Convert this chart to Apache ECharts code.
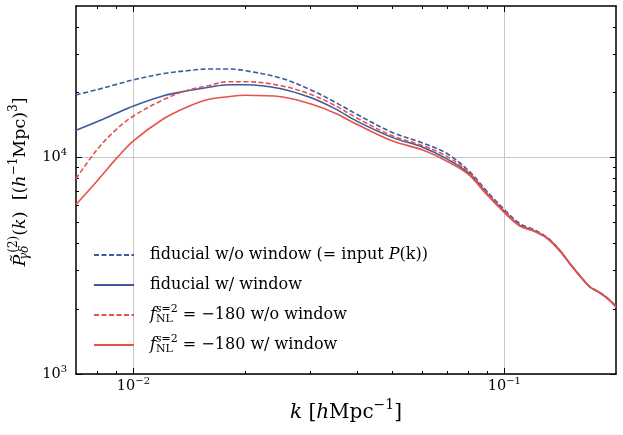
<!DOCTYPE html>
<html><head><meta charset="utf-8">
<script src="https://cdn.jsdelivr.net/npm/echarts@6/dist/echarts.min.js"></script>
<style>html,body{margin:0;padding:0;background:#fff}#c{width:623px;height:435px}</style>
</head><body><div id="c"></div>
<script>
// ---- data ----
const k = [0.007, 0.008, 0.009, 0.01, 0.012, 0.014, 0.016, 0.018, 0.02, 0.025, 0.03, 0.035, 0.04, 0.05, 0.06, 0.07, 0.08, 0.09, 0.1, 0.11, 0.12, 0.13, 0.14, 0.15, 0.16, 0.17, 0.18, 0.19, 0.2];
const fiducialNoWindow = [19430, 20580, 21730, 22800, 24350, 25150, 25600, 25600, 25150, 23220, 20540, 17970, 15820, 13010, 11670, 10430, 8706, 6937, 5743, 4950, 4642, 4285, 3791, 3248, 2837, 2533, 2391, 2236, 2053];
const fiducialWindow = [13340, 14650, 15990, 17280, 19220, 20320, 21090, 21660, 21660, 20760, 18880, 16750, 14710, 12340, 11170, 9840, 8477, 6755, 5610, 4854, 4592, 4261, 3773, 3248, 2837, 2528, 2388, 2232, 2047];
const fnlNoWindow = [7970, 10930, 13480, 15530, 18420, 20430, 21480, 22360, 22360, 21430, 19570, 17350, 15200, 12550, 11360, 10110, 8566, 6828, 5652, 4870, 4603, 4269, 3781, 3244, 2833, 2528, 2388, 2230, 2045];
const fnlWindow = [6058, 7826, 9894, 11924, 14996, 17130, 18560, 19060, 19370, 19060, 17670, 15990, 14220, 11900, 10840, 9603, 8344, 6683, 5563, 4818, 4567, 4239, 3751, 3231, 2822, 2520, 2378, 2225, 2042];

const xMajorTicks = [0.01, 0.1];
const xTickExps = ['−2', '−1'];
const xMinorTicks = [0.008, 0.009, 0.02, 0.03, 0.04, 0.05, 0.06, 0.07, 0.08, 0.09];
const yMajorTicks = [1000, 10000];
const yTickExps = ['3', '4'];
const yMinorTicks = [2000, 3000, 4000, 5000, 6000, 7000, 8000, 9000, 20000, 30000, 40000];

const seriesNames = ['fidNoWin', 'fidWin', 'fnlNoWin', 'fnlWin'];
const legendTexts = [
  'fiducial w/o window (= input {i|P}(k))',
  'fiducial w/ window',
  '{i|f}{subz|NL}{supi|s}{sup|=2} = −180 w/o window',
  '{i|f}{subz|NL}{supi|s}{sup|=2} = −180 w/ window'
];

// ---- styling ----
const FONT = 'DejaVu Serif';
const BLUE = '#3d5a9c';
const RED = '#e5534b';

function richSet(fs, lh) {
  const small = Math.round(fs * 0.7);
  return {
    n: {fontFamily: FONT, fontSize: fs, lineHeight: lh, color: '#000'},
    i: {fontFamily: FONT, fontSize: fs, lineHeight: lh, fontStyle: 'italic', color: '#000'},
    sup: {fontFamily: FONT, fontSize: small, padding: [0, 0, Math.round(fs * 0.7), 0], color: '#000'},
    supi: {fontFamily: FONT, fontSize: small, fontStyle: 'italic', padding: [0, 0, Math.round(fs * 0.7), 0], color: '#000'},
    subz: {fontFamily: FONT, fontSize: small, width: 0, padding: [Math.round(fs * 0.55), 0, 0, 0], color: '#000'},
    subzi: {fontFamily: FONT, fontSize: small, width: 0, fontStyle: 'italic', padding: [Math.round(fs * 0.55), 0, 0, 2], color: '#000'}
  };
}

function pickExp(v, ticks, exps) {
  for (let j = 0; j < ticks.length; j++) {
    if (Math.abs(v / ticks[j] - 1) < 1e-6) return '{n|10}{sup|' + exps[j] + '}';
  }
  return '';
}

const tickLine = {color: '#000', width: 1};
function xAxisDef(pos, major, withLabel) {
  return {
    type: 'log', logBase: 10, min: 0.007, max: 0.2, position: pos,
    axisLine: {show: major, onZero: false, lineStyle: {color: '#000', width: 1.5}},
    axisTick: {show: true, inside: true, length: major ? 6 : 3, customValues: major ? xMajorTicks : xMinorTicks, lineStyle: tickLine},
    axisLabel: withLabel ? {
      show: true, customValues: xMajorTicks, margin: 2,
      formatter: v => pickExp(v, xMajorTicks, xTickExps),
      rich: richSet(14.5, 18)
    } : {show: false},
    splitLine: {show: withLabel, lineStyle: {color: '#c8c8c8', width: 1}},
    name: withLabel ? '{i|k} [{i|h}Mpc{sup|−1}]' : '',
    nameLocation: 'middle', nameGap: 20,
    nameTextStyle: {fontFamily: FONT, fontSize: 20, color: '#000', rich: richSet(20, 24)}
  };
}
function yAxisDef(pos, major, withLabel) {
  return {
    type: 'log', logBase: 10, min: 1000, max: 50000, position: pos,
    axisLine: {show: major, onZero: false, lineStyle: {color: '#000', width: 1.5}},
    axisTick: {show: true, inside: true, length: major ? 6 : 3, customValues: major ? yMajorTicks : yMinorTicks, lineStyle: tickLine},
    axisLabel: withLabel ? {
      show: true, customValues: yMajorTicks, margin: 9,
      formatter: v => pickExp(v, yMajorTicks, yTickExps),
      rich: richSet(14.5, 18)
    } : {show: false},
    splitLine: {show: withLabel, lineStyle: {color: '#c8c8c8', width: 1}},
    name: withLabel ? '{i|P\u0303}{subzi|γδ}{sup|(2)}({i|k})  [({i|h}{sup|−1}Mpc){sup|3}]' : '',
    nameLocation: 'middle', nameGap: 30, nameRotate: 90,
    nameTextStyle: {fontFamily: FONT, fontSize: 17.5, color: '#000', padding: [0, 0, 0, 16], rich: richSet(17.5, 24)}
  };
}

const seriesData = [fiducialNoWindow, fiducialWindow, fnlNoWindow, fnlWindow];
const seriesColors = [BLUE, BLUE, RED, RED];
const seriesDash = [[5, 2.5], 'solid', [5, 2.5], 'solid'];

const chart = echarts.init(document.getElementById('c'), null, {renderer: 'canvas'});
chart.setOption({
  animation: false,
  backgroundColor: '#fff',
  grid: {left: 76, right: 7, top: 6, bottom: 61},
  xAxis: [xAxisDef('bottom', true, true), xAxisDef('bottom', false, false), xAxisDef('top', true, false), xAxisDef('top', false, false)],
  yAxis: [yAxisDef('left', true, true), yAxisDef('left', false, false), yAxisDef('right', true, false), yAxisDef('right', false, false)],
  legend: {
    orient: 'vertical', left: 93, top: 240, padding: 0, itemWidth: 40, itemHeight: 14, itemGap: 0,
    data: seriesNames,
    itemStyle: {opacity: 0},
    formatter: name => legendTexts[seriesNames.indexOf(name)],
    textStyle: {fontFamily: FONT, fontSize: 16, color: '#000', lineHeight: 30, padding: [0, 0, 0, 11], rich: richSet(16, 30)}
  },
  series: seriesNames.map((nm, s) => ({
    name: nm, type: 'line', xAxisIndex: 0, yAxisIndex: 0,
    data: k.map((kv, j) => [kv, seriesData[s][j]]),
    showSymbol: false, symbol: 'none', smooth: 0.35,
    lineStyle: {color: seriesColors[s], width: 1.6, type: seriesDash[s]},
    itemStyle: {color: seriesColors[s]},
    emphasis: {disabled: true}
  }))
});
</script></body></html>
